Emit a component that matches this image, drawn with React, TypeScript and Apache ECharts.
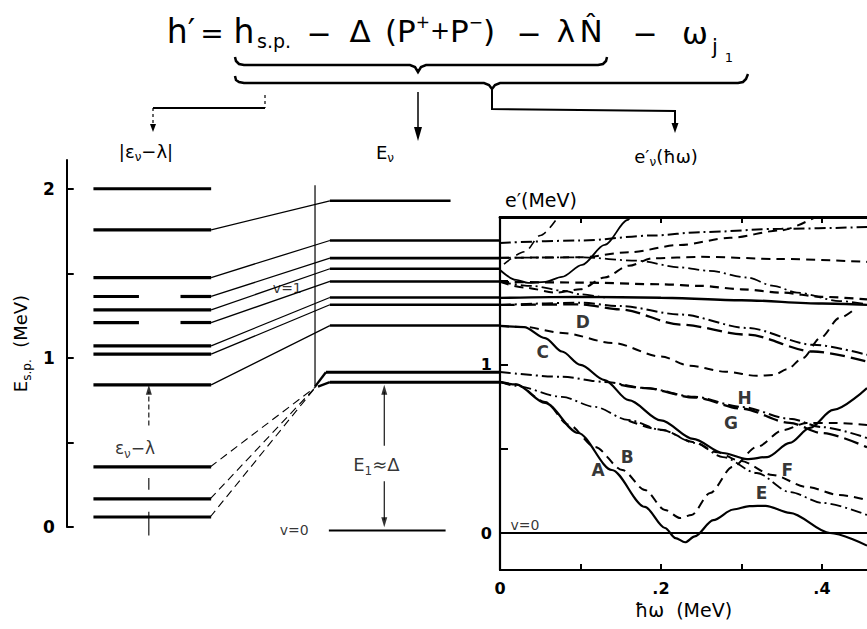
import React, { useEffect, useRef } from "react";
import * as echarts from "echarts";

// ---------------- DATA ----------------
// Left column: single-particle energies |ε_ν − λ| (MeV)
const spLevels = [2.0, 1.757, 1.475, 1.363, 1.284, 1.209, 1.071, 1.022, 0.84, 0.355, 0.166, 0.059];
// Middle column: quasiparticle energies E_ν (MeV)
const qpLevels = [1.929, 1.694, 1.59, 1.527, 1.452, 1.357, 1.314, 1.191, 0.915, 0.856];
const vacuumLevel = -0.02;
// links: single-particle index -> quasiparticle index (solid)
const spToQp = [[1, 0], [2, 1], [3, 2], [4, 3], [5, 4], [6, 5], [7, 6], [8, 7]];
// single-particle levels below λ that feed the lowest quasiparticle pair (dashed)
const spLow = [9, 10, 11];
const spBroken = [3, 5];
const convergeE = 0.83;

// axis ticks
const spTicks = [0, 0.5, 1, 1.5, 2];
const spTickLabels = [0, 1, 2];
const hwTicks = [0.1, 0.2, 0.3, 0.4];
const hwTickLabels = [0, 0.2, 0.4];
const eTicks = [0, 0.5, 1, 1.5];
const eTickLabels = [0, 1];

// Right panel: quasiparticle routhians e'(ħω), [ħω, e'] in MeV
const routhAE = [[0, 0.899], [0.02, 0.884], [0.056, 0.774], [0.097, 0.595], [0.139, 0.375], [0.18, 0.155], [0.205, 0.03], [0.218, -0.03], [0.23, -0.055], [0.242, -0.02], [0.265, 0.077], [0.29, 0.14], [0.31, 0.16], [0.33, 0.162], [0.36, 0.12], [0.41, 0.0], [0.456, -0.075]];
const routhB = [[0, 0.899], [0.02, 0.884], [0.056, 0.78], [0.085, 0.645], [0.118, 0.512], [0.152, 0.375], [0.18, 0.256], [0.205, 0.137], [0.224, 0.089], [0.238, 0.107], [0.261, 0.238], [0.289, 0.393], [0.319, 0.512], [0.352, 0.613], [0.381, 0.655], [0.414, 0.655], [0.456, 0.643]];
const routhLowDD = [[0, 0.899], [0.019, 0.875], [0.077, 0.81], [0.118, 0.75], [0.159, 0.673], [0.201, 0.613], [0.242, 0.536], [0.277, 0.452], [0.319, 0.357], [0.36, 0.244], [0.401, 0.179], [0.456, 0.107]];
const routhF = [[0.16, 0.668], [0.2, 0.615], [0.242, 0.54], [0.27, 0.48], [0.298, 0.43], [0.339, 0.345], [0.381, 0.274], [0.422, 0.226], [0.456, 0.196]];
const routhH = [[0, 0.958], [0.077, 0.929], [0.13, 0.899], [0.18, 0.863], [0.242, 0.81], [0.3, 0.75], [0.36, 0.68], [0.4, 0.63], [0.456, 0.565]];
const routhH2 = [[0.15, 0.882], [0.18, 0.862], [0.242, 0.806], [0.3, 0.74], [0.36, 0.655], [0.4, 0.595], [0.456, 0.51]];
const routhCG = [[0, 1.232], [0.03, 1.225], [0.056, 1.16], [0.077, 1.08], [0.1, 1.0], [0.13, 0.91], [0.16, 0.79], [0.2, 0.67], [0.24, 0.56], [0.277, 0.476], [0.307, 0.44], [0.332, 0.452], [0.36, 0.536], [0.385, 0.625], [0.414, 0.732], [0.456, 0.863]];
const routhD = [[0, 1.232], [0.03, 1.226], [0.078, 1.19], [0.14, 1.131], [0.2, 1.05], [0.236, 0.995], [0.28, 0.96], [0.319, 0.935], [0.34, 0.94], [0.357, 0.975], [0.376, 1.04], [0.398, 1.16], [0.422, 1.28], [0.44, 1.33]];
const routhU1 = [[0, 1.726], [0.1, 1.74], [0.19, 1.77], [0.25, 1.79], [0.35, 1.81], [0.456, 1.82]];
const routhU2 = [[0, 1.637], [0.1, 1.64], [0.16, 1.67], [0.224, 1.714], [0.286, 1.756], [0.348, 1.8], [0.39, 1.875]];
const routhU3 = [[0, 1.637], [0.1, 1.64], [0.17, 1.62], [0.224, 1.58], [0.26, 1.56], [0.307, 1.52], [0.34, 1.47], [0.369, 1.43], [0.422, 1.38], [0.456, 1.36]];
const routhU4 = [[0, 1.494], [0.03, 1.46], [0.07, 1.43], [0.1, 1.45], [0.13, 1.52], [0.16, 1.59], [0.19, 1.635], [0.25, 1.643], [0.35, 1.63], [0.456, 1.613]];
const routhU5 = [[0, 1.565], [0.02, 1.506], [0.035, 1.488], [0.056, 1.494], [0.077, 1.524], [0.102, 1.595], [0.13, 1.714], [0.159, 1.863], [0.163, 1.89]];
const routhU6 = [[0.005, 1.6], [0.031, 1.673], [0.05, 1.77], [0.072, 1.88]];
const routhU7 = [[0, 1.494], [0.1, 1.49], [0.2, 1.48], [0.25, 1.47], [0.3, 1.45], [0.35, 1.43], [0.4, 1.405], [0.456, 1.39]];
const routhU8 = [[0, 1.494], [0.04, 1.47], [0.08, 1.44], [0.1, 1.42], [0.13, 1.4]];
const routhU9 = [[0, 1.399], [0.1, 1.405], [0.2, 1.4], [0.3, 1.385], [0.4, 1.365], [0.456, 1.357]];
const routhU10 = [[0, 1.357], [0.1, 1.37], [0.15, 1.35], [0.224, 1.3], [0.307, 1.22], [0.389, 1.12], [0.456, 1.06]];
const routhU11 = [[0, 1.357], [0.1, 1.36], [0.15, 1.33], [0.224, 1.24], [0.307, 1.18], [0.389, 1.08], [0.456, 1.02]];
const vacuumRouth = [[0, 0], [0.456, 0]];

const curveLetters = ["A", "B", "C", "D", "E", "F", "G", "H"];
const curveLetterHw = [0.122, 0.158, 0.053, 0.103, 0.325, 0.357, 0.287, 0.304];
const curveLetterE = [0.375, 0.452, 1.077, 1.256, 0.238, 0.375, 0.655, 0.804];

// ---------------- LAYOUT / STYLE ----------------
const FONT = '"DejaVu Sans", "Liberation Sans", sans-serif';
const COL_SP = [27, 146];
const COL_SP_GAP = [73, 115];
const COL_QP = [266, 438];
const COL_QP_TOP_END = 388;
const COL_QP_V1_START = 262;
const COL_VAC = [265, 383];
const X_VLINE = 251;
const X_CONV = 252;
const X_ARROW_SP = 83;
const X_ARROW_QP = 321;

const DASH = [9, 6];
const DASHDOT = [11, 4, 2, 4];
const LONGDASH = [15, 6];

const routhians = [
  { data: routhAE, type: "solid", width: 2.2 },
  { data: routhB, type: DASH, width: 2 },
  { data: routhLowDD, type: DASHDOT, width: 1.8 },
  { data: routhF, type: DASH, width: 2 },
  { data: routhH, type: DASHDOT, width: 2 },
  { data: routhH2, type: LONGDASH, width: 2.3 },
  { data: routhCG, type: "solid", width: 2.2 },
  { data: routhD, type: DASH, width: 2 },
  { data: routhU1, type: DASHDOT, width: 2 },
  { data: routhU2, type: DASH, width: 2 },
  { data: routhU3, type: DASHDOT, width: 1.8 },
  { data: routhU4, type: DASH, width: 2 },
  { data: routhU5, type: "solid", width: 1.8 },
  { data: routhU6, type: DASH, width: 1.6 },
  { data: routhU7, type: DASH, width: 2.2 },
  { data: routhU8, type: DASHDOT, width: 1.8 },
  { data: routhU9, type: "solid", width: 2.4 },
  { data: routhU10, type: DASHDOT, width: 2 },
  { data: routhU11, type: LONGDASH, width: 2.3 },
  { data: vacuumRouth, type: "solid", width: 2 },
];

const subRich = {
  s: { fontSize: 12, lineHeight: 14, verticalAlign: "bottom", fontFamily: FONT, color: "#000", fill: "#000" },
};
const supRich = {
  u: { fontSize: 17, lineHeight: 17, verticalAlign: "top", fontFamily: FONT, color: "#000", fill: "#000" },
  p: { fontSize: 24, lineHeight: 36, fontFamily: FONT, color: "#000", fill: "#000" },
};

function buildOption() {
  const series: any[] = [];
  const g1 = { xAxisIndex: 0, yAxisIndex: 0 };
  const g2 = { xAxisIndex: 1, yAxisIndex: 1 };
  const line = (data: any[], width: number, type: any, idx: any, extra: any = {}) => ({
    type: "line",
    ...idx,
    data,
    symbol: "none",
    silent: true,
    lineStyle: { color: "#000", width, type },
    ...extra,
  });

  // single-particle levels
  spLevels.forEach((e, i) => {
    if (spBroken.includes(i)) {
      series.push(line([[COL_SP[0], e], [COL_SP_GAP[0], e]], 3.2, "solid", g1));
      series.push(line([[COL_SP_GAP[1], e], [COL_SP[1], e]], 3.2, "solid", g1));
    } else {
      series.push(line([[COL_SP[0], e], [COL_SP[1], e]], 3.2, "solid", g1));
    }
  });
  // quasiparticle levels
  qpLevels.forEach((e, i) => {
    let x0 = COL_QP[0];
    let x1 = COL_QP[1];
    if (i === 0) x1 = COL_QP_TOP_END;
    if (i === 8) x0 = COL_QP_V1_START;
    series.push(line([[x0, e], [x1, e]], i >= 8 ? 3 : 2.6, "solid", g1));
  });
  // solid links
  spToQp.forEach(([s, q]) => {
    series.push(line([[COL_SP[1], spLevels[s]], [COL_QP[0], qpLevels[q]]], 1.3, "solid", g1));
  });
  // dashed links from levels below λ
  spLow.forEach((s) => {
    series.push(line([[COL_SP[1] - 1, spLevels[s]], [X_CONV, convergeE]], 1.1, [8, 5], g1));
  });
  // bends into the lowest pair
  series.push(line([[X_VLINE, convergeE], [COL_QP_V1_START, qpLevels[8]]], 2.4, "solid", g1));
  series.push(line([[X_VLINE + 3, convergeE], [COL_QP[0], qpLevels[9]]], 2.4, "solid", g1));
  // vertical divider
  series.push(line([[X_VLINE, convergeE], [X_VLINE, 2.02]], 1.2, "solid", g1));
  // vacuum
  series.push(line([[COL_VAC[0], vacuumLevel], [COL_VAC[1], vacuumLevel]], 2, "solid", g1, { clip: false }));
  // arrows
  series.push(line([[X_ARROW_SP, 0.6], [X_ARROW_SP, 0.8]], 1.1, [5, 3], g1));
  series.push(line([[X_ARROW_SP, 0.22], [X_ARROW_SP, 0.29]], 1.1, "solid", g1));
  series.push(line([[X_ARROW_SP, -0.05], [X_ARROW_SP, 0.09]], 1.1, "solid", g1, { clip: false }));
  series.push(line([[X_ARROW_QP, 0.48], [X_ARROW_QP, 0.8]], 1.1, "solid", g1));
  series.push(line([[X_ARROW_QP, 0.04], [X_ARROW_QP, 0.27]], 1.1, "solid", g1));
  series.push({
    type: "scatter",
    ...g1,
    silent: true,
    clip: false,
    symbol: "triangle",
    symbolSize: [6, 10],
    itemStyle: { color: "#000" },
    data: [
      { value: [X_ARROW_SP, 0.812] },
      { value: [X_ARROW_QP, 0.812] },
      { value: [X_ARROW_QP, 0.028], symbolRotate: 180 },
    ],
  });
  // grid 1 labels
  series.push({
    type: "scatter",
    ...g1,
    silent: true,
    clip: false,
    symbolSize: 1,
    itemStyle: { color: "rgba(0,0,0,0)" },
    label: {
      show: true,
      position: "inside",
      formatter: "{b}",
      color: "#000",
      textBorderWidth: 0,
      fontFamily: FONT,
      fontSize: 17,
      lineHeight: 24,
      rich: subRich,
    },
    data: [
      { value: [69, 0.47], name: "ε{s|ν}−λ" },
      { value: [313, 0.367], name: "E{s|1}≈Δ", label: { fontSize: 18 } },
      { value: [223, 1.414], name: "v=1", label: { fontSize: 14 } },
      { value: [230, vacuumLevel], name: "v=0", label: { fontSize: 14 } },
    ],
  });

  // right panel routhians
  routhians.forEach((r) => {
    series.push(
      line(r.data, r.width, r.type, g2, { smooth: 0.3, smoothMonotone: "x" })
    );
  });
  series.push({
    type: "scatter",
    ...g2,
    silent: true,
    clip: false,
    symbolSize: 1,
    itemStyle: { color: "rgba(0,0,0,0)" },
    label: {
      show: true,
      position: "inside",
      formatter: "{b}",
      color: "#000",
      textBorderWidth: 0,
      fontFamily: FONT,
      fontSize: 17,
      fontWeight: "bold",
    },
    data: [
      ...curveLetters.map((n, i) => ({ value: [curveLetterHw[i], curveLetterE[i]], name: n })),
      { value: [0.031, 0.05], name: "v=0", label: { fontSize: 14, fontWeight: "normal" } },
    ],
  });

  const gText = (text: string, x: number, y: number, fontSize: number, opts: any = {}) => ({
    type: "text",
    x,
    y,
    silent: true,
    style: {
      text,
      fontSize,
      fontFamily: FONT,
      fill: "#000",
      align: opts.align || "center",
      textAlign: opts.align || "center",
      verticalAlign: "middle",
      textVerticalAlign: "middle",
      fontWeight: opts.weight || "normal",
      lineHeight: opts.lineHeight || (opts.rich ? 24 : undefined),
      rich: opts.rich,
    },
  });
  const gLine = (x1: number, y1: number, x2: number, y2: number, w: number, dash?: number[]) => ({
    type: "line",
    silent: true,
    shape: { x1, y1, x2, y2 },
    style: { stroke: "#000", lineWidth: w, lineDash: dash },
  });
  const gPoly = (points: number[][], w: number) => ({
    type: "polyline",
    silent: true,
    shape: { points },
    style: { stroke: "#000", lineWidth: w, fill: null },
  });
  const gTri = (points: number[][]) => ({
    type: "polygon",
    silent: true,
    shape: { points },
    style: { fill: "#000" },
  });

  const graphic = [
    // formula
    gText("h′", 181, 31, 33),
    gText("=", 212, 33, 28),
    gText("h", 244, 31, 33),
    gText("s.p.", 274, 41, 19),
    gText("−", 319, 33, 30),
    gText("Δ", 360, 31, 31),
    gText("(P{u|+}{p|+}P{u|−})", 440, 31, 31, { rich: supRich, lineHeight: 36 }),
    gText("−", 529, 33, 30),
    gText("λ", 566, 31, 31),
    gText("N\u0302", 591, 31, 31),
    gText("−", 645, 33, 30),
    gText("ω", 695, 33, 31),
    gText("j", 715, 47, 21),
    gText("1", 729, 57, 13),
    // braces
    gPoly([[235, 57], [236, 61], [239, 64], [244, 65], [410, 65], [415, 67], [418, 72], [421, 67], [426, 65], [598, 65], [603, 64], [606, 61], [607, 57]], 2.5),
    gPoly([[235, 76], [236, 80], [239, 82], [244, 83], [484, 83], [489, 85], [492, 89], [495, 85], [500, 83], [738, 83], [743, 82], [746, 79], [748, 74]], 2.5),
    // brackets and arrows
    gLine(265, 95, 265, 108, 1.2, [3, 3]),
    gLine(153, 108, 265, 108, 2),
    gLine(153, 108, 153, 125, 1.2, [3, 3]),
    gTri([[150, 124], [156, 124], [153, 132]]),
    gLine(418, 92, 418, 130, 1.5),
    gTri([[414, 127], [422, 127], [418, 141]]),
    gPoly([[492, 89], [492, 109], [675, 111], [675, 126]], 2),
    gTri([[671.5, 123], [678.5, 123], [675, 133]]),
    // column headings
    gText("|ε{s|ν}−λ|", 146, 151, 18, { rich: subRich }),
    gText("E{s|ν}", 385, 152, 18, { rich: subRich }),
    gText("e′{s|ν}(ħω)", 666, 156, 18, { rich: subRich }),
    gText("e′(MeV)", 505, 200, 19, { align: "left" }),
  ];

  return {
    animation: false,
    backgroundColor: "#fff",
    grid: [
      { left: 62, top: 160, width: 438, height: 367 },
      { left: 500, top: 217, width: 367, height: 353 },
    ],
    xAxis: [
      { gridIndex: 0, type: "value", min: 0, max: 438, show: false },
      {
        gridIndex: 1,
        type: "value",
        min: 0,
        max: 0.456,
        position: "bottom",
        axisLine: { show: true, onZero: false, lineStyle: { color: "#000", width: 2.2 } },
        axisTick: { show: true, inside: true, length: 6, customValues: hwTicks, lineStyle: { color: "#000", width: 2 } },
        axisLabel: {
          show: true,
          customValues: hwTickLabels,
          formatter: (v: number) => (v === 0 ? "0" : "." + Math.round(v * 10)),
          color: "#000",
          fontSize: 16,
          fontWeight: "bold",
          fontFamily: FONT,
          margin: 10,
        },
        splitLine: { show: false },
        name: "ħω  (MeV)",
        nameLocation: "middle",
        nameGap: 29,
        nameTextStyle: { color: "#000", fontSize: 19, fontFamily: FONT },
      },
      {
        gridIndex: 1,
        type: "value",
        min: 0,
        max: 0.456,
        position: "top",
        axisLine: { show: true, onZero: false, lineStyle: { color: "#000", width: 2.8 } },
        axisTick: { show: true, inside: true, length: 6, customValues: hwTicks, lineStyle: { color: "#000", width: 2 } },
        axisLabel: { show: false },
        splitLine: { show: false },
      },
    ],
    yAxis: [
      {
        gridIndex: 0,
        type: "value",
        min: 0,
        max: 2.17,
        axisLine: { show: true, onZero: false, lineStyle: { color: "#000", width: 2 } },
        axisTick: { show: true, inside: true, length: 7, customValues: spTicks, lineStyle: { color: "#000", width: 2 } },
        axisLabel: {
          show: true,
          customValues: spTickLabels,
          formatter: (v: number) => String(v),
          color: "#000",
          fontSize: 17,
          fontWeight: "bold",
          fontFamily: FONT,
          margin: 12,
        },
        splitLine: { show: false },
        name: "E{s|s.p.}  (MeV)",
        nameLocation: "middle",
        nameGap: 34,
        nameRotate: 90,
        nameTextStyle: { color: "#000", fontSize: 18, fontFamily: FONT, lineHeight: 24, rich: subRich },
      },
      {
        gridIndex: 1,
        type: "value",
        min: -0.22,
        max: 1.88,
        axisLine: { show: true, onZero: false, lineStyle: { color: "#000", width: 2.2 } },
        axisTick: { show: true, inside: true, length: 8, customValues: eTicks, lineStyle: { color: "#000", width: 2 } },
        axisLabel: {
          show: true,
          customValues: eTickLabels,
          formatter: (v: number) => String(v),
          color: "#000",
          fontSize: 16,
          fontWeight: "bold",
          fontFamily: FONT,
          margin: 8,
        },
        splitLine: { show: false },
      },
    ],
    series,
    graphic,
  };
}

export default function App() {
  const ref = useRef<HTMLDivElement>(null);
  useEffect(() => {
    document.body.style.margin = "0";
    document.body.style.overflow = "hidden";
    if (!ref.current) return;
    const chart = echarts.init(ref.current, null, { renderer: "svg" });
    chart.setOption(buildOption() as any);
    return () => chart.dispose();
  }, []);
  return <div ref={ref} style={{ width: 867, height: 629, background: "#fff" }} />;
}
